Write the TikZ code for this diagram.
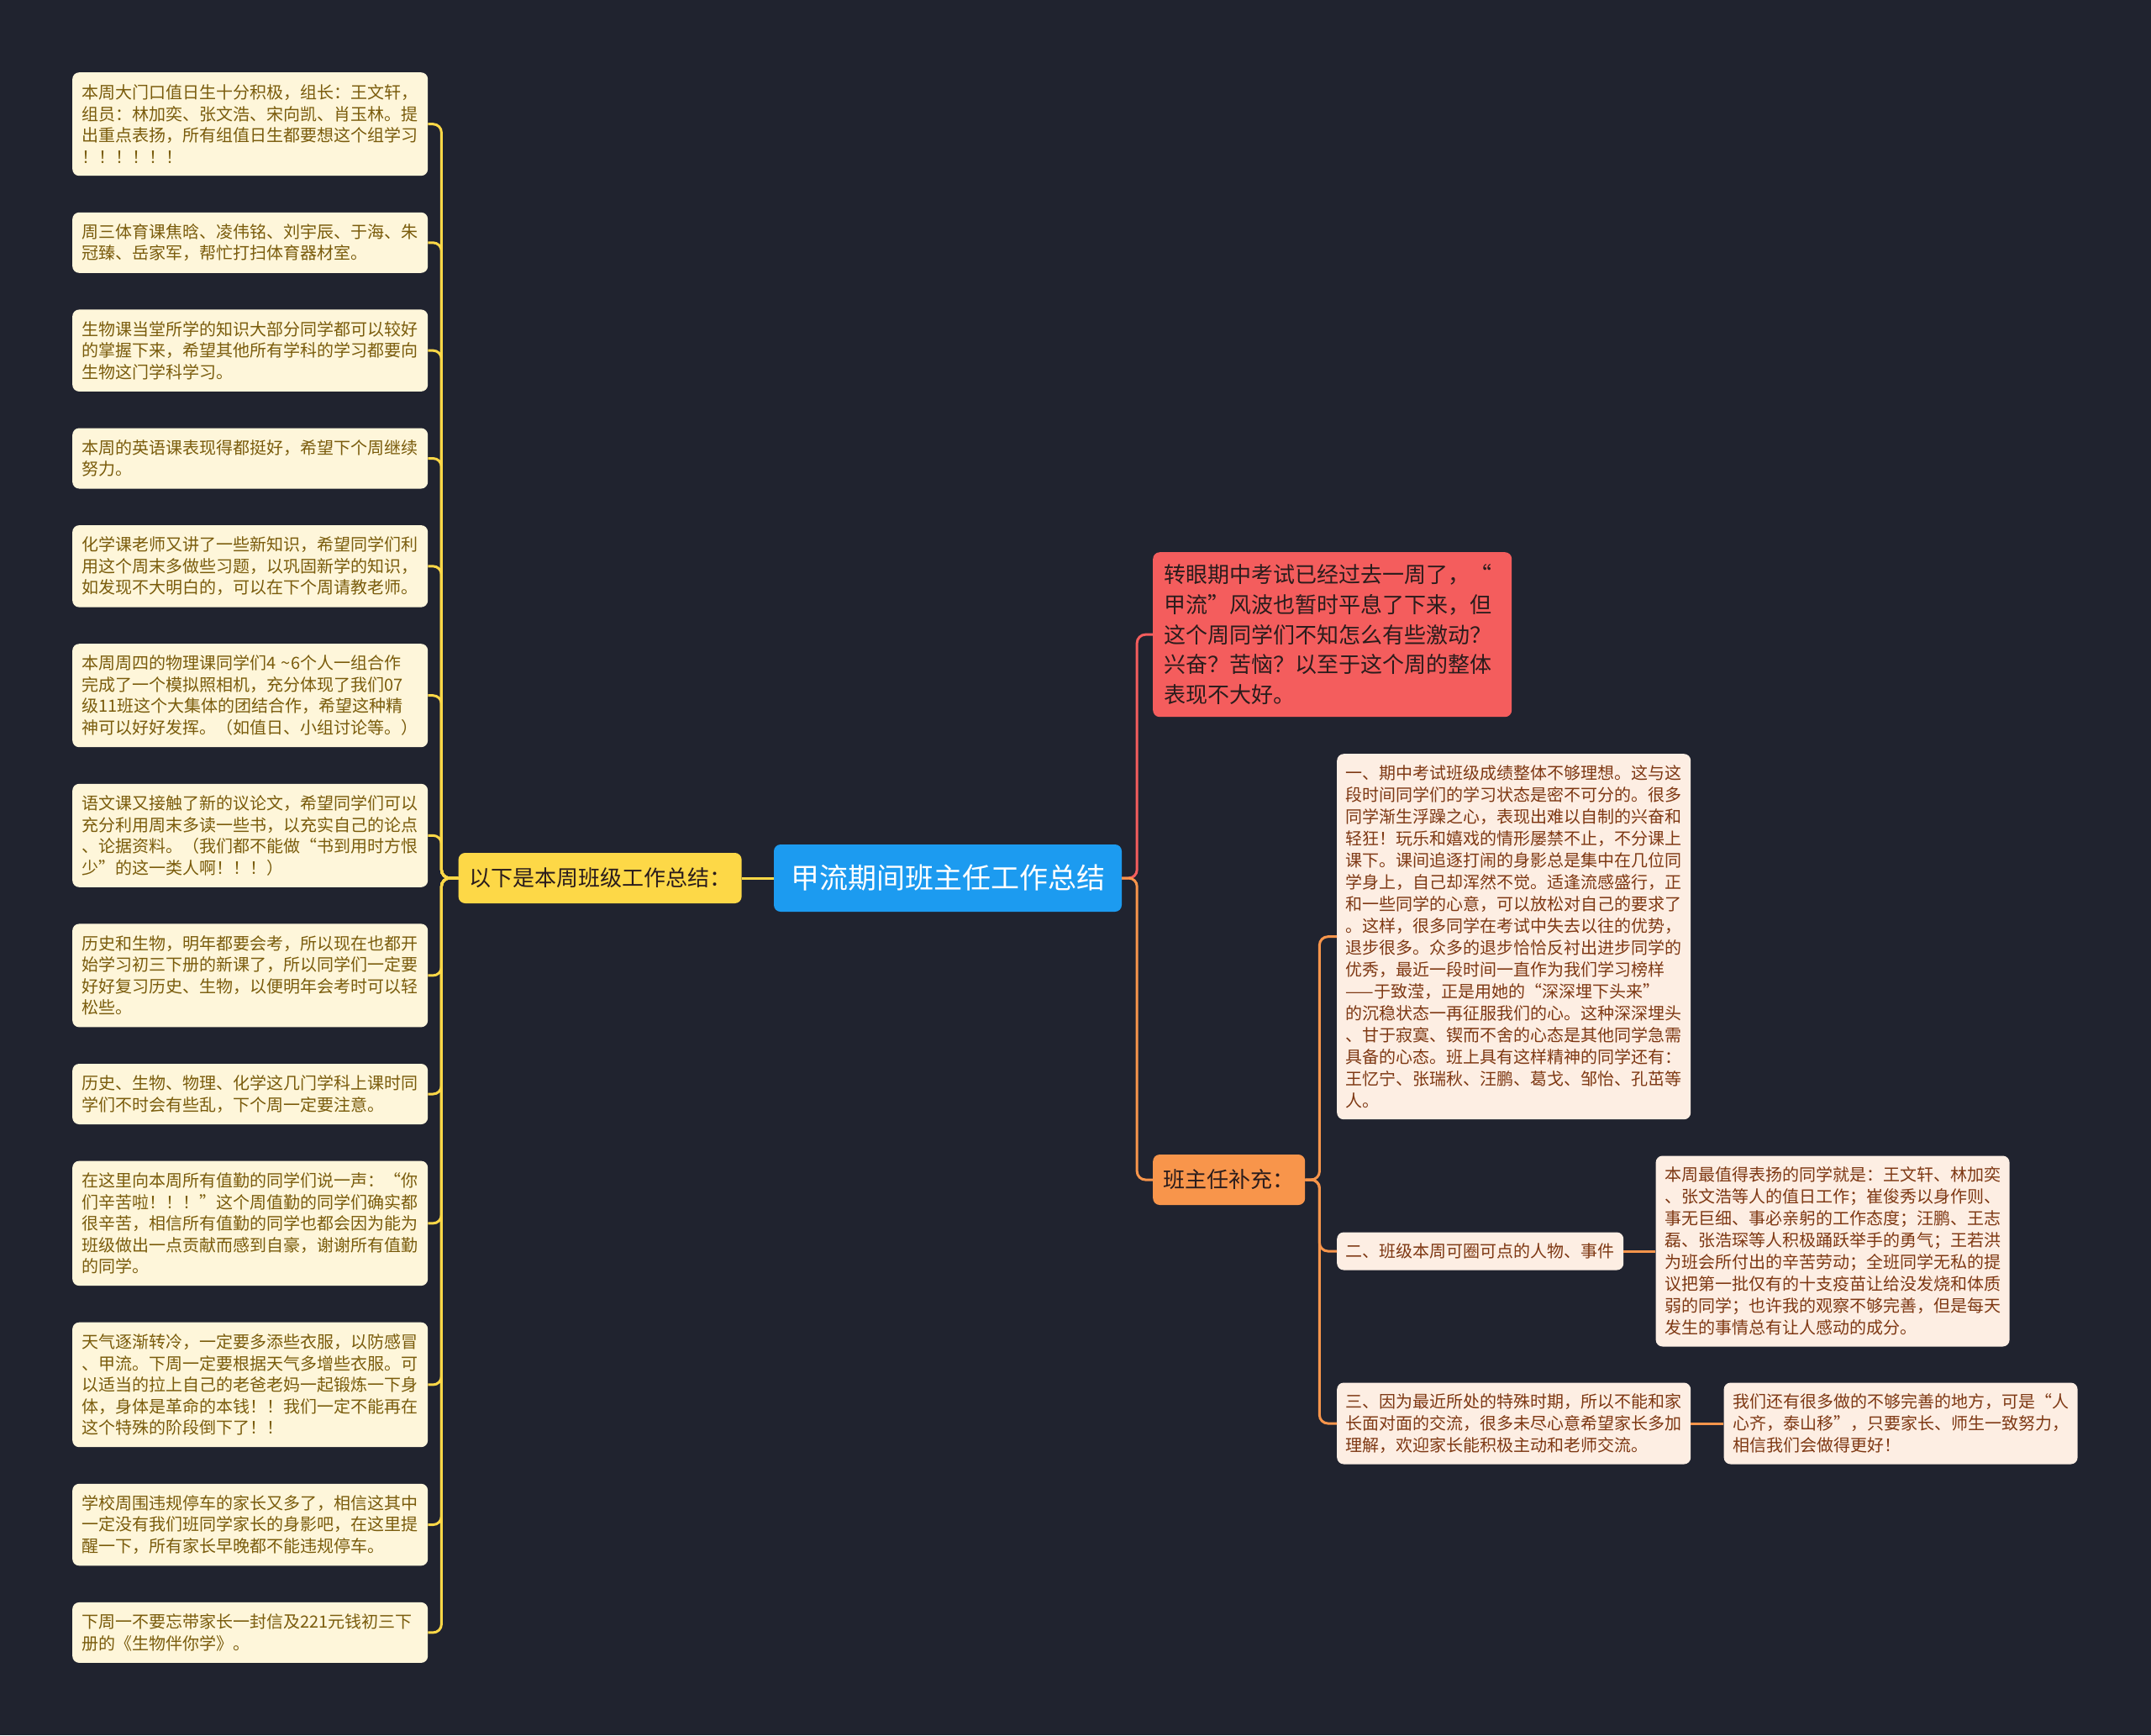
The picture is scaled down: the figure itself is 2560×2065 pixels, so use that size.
\documentclass[tikz,border=0pt]{standalone}
\usepackage{fontspec}
\setmainfont{Noto Sans CJK SC}
\usepackage{tikz}
\usetikzlibrary{positioning}
\definecolor{bgcol}{HTML}{20232F}
\definecolor{notefill}{HTML}{FEF6DA}
\definecolor{notetext}{HTML}{7A5C0C}
\definecolor{memofill}{HTML}{FDEEE3}
\definecolor{memotext}{HTML}{7E3813}
\definecolor{rootblue}{HTML}{1C9BF0}
\definecolor{sumyellow}{HTML}{FDD847}
\definecolor{introred}{HTML}{F45D5D}
\definecolor{bossorange}{HTML}{F8954B}
\definecolor{darktext}{HTML}{2A1C1C}

\begin{document}
\begin{tikzpicture}[x=1pt,y=1pt,node distance=43.2pt,
  note/.style={fill=notefill,text=notetext,rounded corners=8pt,align=left,text width=401pt,
               font=\fontsize{20pt}{25.5pt}\selectfont,inner xsep=11pt,inner ysep=0pt,
               minimum height=#1*25.5pt+21pt},
  memo/.style={fill=memofill,text=memotext,rounded corners=8pt,align=left,
               font=\fontsize{20pt}{26pt}\selectfont,inner xsep=10.5pt,inner ysep=0pt,
               minimum height=#1*26pt+19pt},
  wide/.style={text width=400pt},
  head/.style={fill=#1,text=darktext,rounded corners=8pt,font=\fontsize{26pt}{30pt}\selectfont,
               inner xsep=12.5pt,minimum height=60pt},
  link/.style={draw=#1,line width=3pt,rounded corners=10pt}]
  \fill[bgcol] (0,0) rectangle (2560,-2065);
  \useasboundingbox (0,0) rectangle (2560,-2065);

  \node[fill=rootblue,text=white,rounded corners=8pt,font=\fontsize{34pt}{40pt}\selectfont,
        inner xsep=20pt,minimum width=414pt,minimum height=80pt] (root) at (1128,-1045)
    {甲流期间班主任工作总结};
  \node[head=sumyellow,left=38pt of root] (sum) {以下是本周班级工作总结：};
  \node[head=bossorange,anchor=west] (boss) at (1372,-1404) {班主任补充：};
  \node[fill=introred,text=darktext,rounded corners=8pt,align=left,text width=401pt,
        font=\fontsize{26pt}{35.7pt}\selectfont,inner xsep=13pt,inner ysep=0pt,
        minimum height=196pt,anchor=north west] (intro) at (1372,-657)
    {转眼期中考试已经过去一周了，“\\甲流”风波也暂时平息了下来，但\\这个周同学们不知怎么有些激动？\\兴奋？苦恼？以至于这个周的整体\\表现不大好。};

  % left column
  \node[note=4,anchor=north west] (l1) at (86,-86)
    {本周大门口值日生十分积极，组长：王文轩，\\组员：林加奕、张文浩、宋向凯、肖玉林。提\\出重点表扬，所有组值日生都要想这个组学习\\！！！！！！};
  \node[note=2,below=of l1] (l2)
    {周三体育课焦晗、凌伟铭、刘宇辰、于海、朱\\冠臻、岳家军，帮忙打扫体育器材室。};
  \node[note=3,below=of l2] (l3)
    {生物课当堂所学的知识大部分同学都可以较好\\的掌握下来，希望其他所有学科的学习都要向\\生物这门学科学习。};
  \node[note=2,below=of l3] (l4)
    {本周的英语课表现得都挺好，希望下个周继续\\努力。};
  \node[note=3,below=of l4] (l5)
    {化学课老师又讲了一些新知识，希望同学们利\\用这个周末多做些习题，以巩固新学的知识，\\如发现不大明白的，可以在下个周请教老师。};
  \node[note=4,below=of l5] (l6)
    {本周周四的物理课同学们4 \textasciitilde 6个人一组合作\\完成了一个模拟照相机，充分体现了我们07\\级11班这个大集体的团结合作，希望这种精\\神可以好好发挥。（如值日、小组讨论等。）};
  \node[note=4,below=of l6] (l7)
    {语文课又接触了新的议论文，希望同学们可以\\充分利用周末多读一些书，以充实自己的论点\\、论据资料。（我们都不能做“书到用时方恨\\少”的这一类人啊！！！）};
  \node[note=4,below=of l7] (l8)
    {历史和生物，明年都要会考，所以现在也都开\\始学习初三下册的新课了，所以同学们一定要\\好好复习历史、生物，以便明年会考时可以轻\\松些。};
  \node[note=2,below=of l8] (l9)
    {历史、生物、物理、化学这几门学科上课时同\\学们不时会有些乱，下个周一定要注意。};
  \node[note=5,below=of l9] (l10)
    {在这里向本周所有值勤的同学们说一声：“你\\们辛苦啦！！！”这个周值勤的同学们确实都\\很辛苦，相信所有值勤的同学也都会因为能为\\班级做出一点贡献而感到自豪，谢谢所有值勤\\的同学。};
  \node[note=5,below=of l10] (l11)
    {天气逐渐转冷，一定要多添些衣服，以防感冒\\、甲流。下周一定要根据天气多增些衣服。可\\以适当的拉上自己的老爸老妈一起锻炼一下身\\体，身体是革命的本钱！！我们一定不能再在\\这个特殊的阶段倒下了！！};
  \node[note=3,below=of l11] (l12)
    {学校周围违规停车的家长又多了，相信这其中\\一定没有我们班同学家长的身影吧，在这里提\\醒一下，所有家长早晚都不能违规停车。};
  \node[note=2,below=of l12] (l13)
    {下周一不要忘带家长一封信及221元钱初三下\\册的《生物伴你学》。};

  % right column
  \node[memo=16,wide,anchor=north west] (r1) at (1591,-897)
    {一、期中考试班级成绩整体不够理想。这与这\\段时间同学们的学习状态是密不可分的。很多\\同学渐生浮躁之心，表现出难以自制的兴奋和\\轻狂！玩乐和嬉戏的情形屡禁不止，不分课上\\课下。课间追逐打闹的身影总是集中在几位同\\学身上，自己却浑然不觉。适逢流感盛行，正\\和一些同学的心意，可以放松对自己的要求了\\。这样，很多同学在考试中失去以往的优势，\\退步很多。众多的退步恰恰反衬出进步同学的\\优秀，最近一段时间一直作为我们学习榜样\\——于致滢，正是用她的“深深埋下头来”\\的沉稳状态一再征服我们的心。这种深深埋头\\、甘于寂寞、锲而不舍的心态是其他同学急需\\具备的心态。班上具有这样精神的同学还有：\\王忆宁、张瑞秋、汪鹏、葛戈、邹怡、孔茁等\\人。};
  \node[memo=1,anchor=west] (r2) at (1591,-1489) {二、班级本周可圈可点的人物、事件};
  \node[memo=8,wide,right=38pt of r2] (r2a)
    {本周最值得表扬的同学就是：王文轩、林加奕\\、张文浩等人的值日工作；崔俊秀以身作则、\\事无巨细、事必亲躬的工作态度；汪鹏、王志\\磊、张浩琛等人积极踊跃举手的勇气；王若洪\\为班会所付出的辛苦劳动；全班同学无私的提\\议把第一批仅有的十支疫苗让给没发烧和体质\\弱的同学；也许我的观察不够完善，但是每天\\发生的事情总有让人感动的成分。};
  \node[memo=3,wide,anchor=west] (r3) at (1591,-1694)
    {三、因为最近所处的特殊时期，所以不能和家\\长面对面的交流，很多未尽心意希望家长多加\\理解，欢迎家长能积极主动和老师交流。};
  \node[memo=3,wide,right=39pt of r3] (r3a)
    {我们还有很多做的不够完善的地方，可是“人\\心齐，泰山移”，只要家长、师生一致努力，\\相信我们会做得更好！};

  % connectors
  \draw[link=sumyellow] (sum) -- (root);
  \foreach \n in {l1,l2,l3,l4,l5,l6,l7,l8,l9,l10,l11,l12,l13}
    \draw[link=sumyellow] (sum.west) -- ++(-20,0) |- (\n.east);
  \draw[link=introred] (root.east) -- ++(18,0) |- (intro.west);
  \draw[link=bossorange] (root.east) -- ++(18,0) |- (boss.west);
  \foreach \n in {r1,r2,r3}
    \draw[link=bossorange] (boss.east) -- ++(17,0) |- (\n.west);
  \draw[link=bossorange] (r2) -- (r2a);
  \draw[link=bossorange] (r3) -- (r3a);
\end{tikzpicture}
\end{document}
